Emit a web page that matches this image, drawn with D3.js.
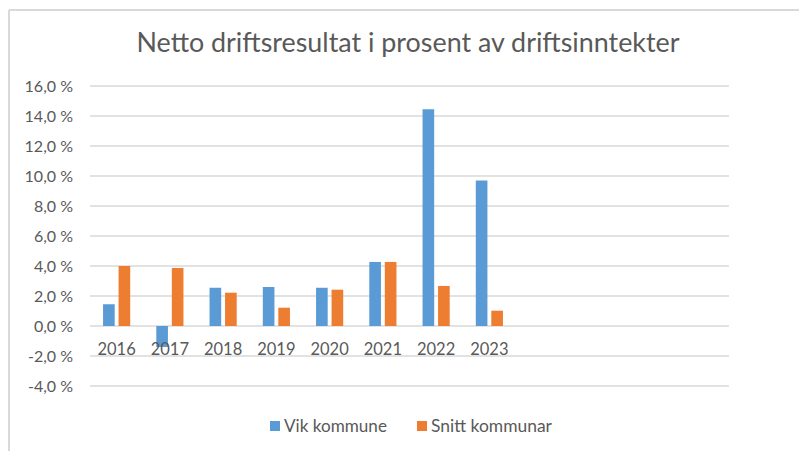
<!DOCTYPE html>
<html>
<head>
<meta charset="utf-8">
<script src="https://cdn.jsdelivr.net/npm/d3@7"></script>
<style>
  html, body { margin: 0; padding: 0; background: #fff; }
  svg { display: block; }
  text { font-family: Lato, "Open Sans", sans-serif; fill: #595959; }
</style>
</head>
<body>
<svg id="chart" width="799" height="451"></svg>
<script>
const title = "Netto driftsresultat i prosent av driftsinntekter";
const categories = ["2016", "2017", "2018", "2019", "2020", "2021", "2022", "2023"];
const totalSlots = 12; // axis continues with empty categories
const seriesNames = ["Vik kommune", "Snitt kommunar"];
const vikValues = [1.45, -1.4, 2.55, 2.6, 2.55, 4.27, 14.45, 9.7];
const snittValues = [4.0, 3.87, 2.22, 1.22, 2.42, 4.27, 2.67, 1.02];
const yTicks = [-4, -2, 0, 2, 4, 6, 8, 10, 12, 14, 16];
const colors = ["#5B9BD5", "#ED7D31"];

const svg = d3.select("#chart");

// fit a text element's font-size so it spans a target width
function fitWidth(sel, target) {
  const node = sel.node();
  const base = parseFloat(sel.attr("font-size"));
  const w = node.getComputedTextLength();
  if (w > 0) sel.attr("font-size", (base * target / w).toFixed(2));
}

// outer frame (top and left edges visible)
svg.append("line").attr("x1", 9).attr("x2", 799).attr("y1", 10).attr("y2", 10)
  .attr("stroke", "#d9d9d9").attr("stroke-width", 2);
svg.append("line").attr("x1", 9).attr("x2", 9).attr("y1", 10).attr("y2", 451)
  .attr("stroke", "#d9d9d9").attr("stroke-width", 2);

const plotLeft = 90, plotRight = 729, plotTop = 86, plotBottom = 386;

const x = d3.scaleBand().domain(d3.range(totalSlots)).range([plotLeft, plotRight]);
const bw = x.bandwidth();
const x1 = d3.scaleBand().domain(seriesNames).range([bw * 0.245, bw * 0.755]).paddingInner(0.25);
const y = d3.scaleLinear().domain([-4, 16]).range([plotBottom, plotTop]);

// gridlines
svg.append("g").selectAll("line").data(yTicks).join("line")
  .attr("x1", plotLeft).attr("x2", plotRight)
  .attr("y1", d => y(d)).attr("y2", d => y(d))
  .attr("stroke", "#d9d9d9").attr("stroke-width", 1.3);

// y labels
const fmt = d => d.toFixed(1).replace(".", ",") + " %";
svg.append("g").selectAll("text").data(yTicks).join("text")
  .attr("x", 73).attr("y", d => y(d)).attr("dy", "0.35em")
  .attr("text-anchor", "end").attr("font-size", 16)
  .text(fmt);

// bars
const data = categories.map((c, i) => ({ i, values: [vikValues[i], snittValues[i]] }));
const groups = svg.append("g").selectAll("g").data(data).join("g")
  .attr("transform", d => `translate(${x(d.i)},0)`);
groups.selectAll("rect").data(d => d.values.map((v, k) => ({ v, k })))
  .join("rect")
  .attr("x", d => x1(seriesNames[d.k]))
  .attr("width", x1.bandwidth())
  .attr("y", d => y(Math.max(0, d.v)))
  .attr("height", d => Math.abs(y(d.v) - y(0)))
  .attr("fill", d => colors[d.k]);

// x labels (next to the zero axis)
svg.append("g").selectAll("text").data(categories).join("text")
  .attr("x", (d, i) => x(i) + bw / 2)
  .attr("y", y(0) + 29)
  .attr("text-anchor", "middle").attr("font-size", 16.5)
  .text(d => d);

// title
const t = svg.append("text").attr("x", 408).attr("y", 52)
  .attr("text-anchor", "middle").attr("font-size", 24)
  .text(title);
fitWidth(t, 543);

// legend
const legendX = [270, 417];
const legendW = [103, 121];
const lg = svg.append("g").selectAll("g").data(seriesNames).join("g")
  .attr("transform", (d, i) => `translate(${legendX[i]},421)`);
lg.append("rect").attr("width", 10).attr("height", 10).attr("fill", (d, i) => colors[i]);
lg.append("text").attr("x", 14).attr("y", 5).attr("dy", "0.35em")
  .attr("font-size", 15.5).text(d => d)
  .each(function (d, i) { fitWidth(d3.select(this), legendW[i]); });
</script>
</body>
</html>
